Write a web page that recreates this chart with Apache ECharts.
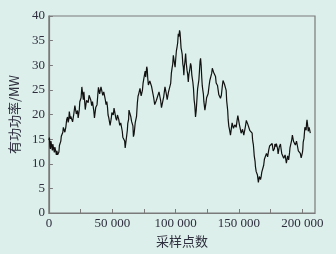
<!DOCTYPE html>
<html><head><meta charset="utf-8">
<script src="https://cdn.jsdelivr.net/npm/echarts@6/dist/echarts.min.js"></script>
<style>html,body{margin:0;padding:0;background:#dcefea;}#c{width:336px;height:254px;}</style>
</head><body><div id="c"></div>
<script>
const xName = '采样点数';
const yName = '有功功率/MW';
const sampleIdx = [0,800,1600,2400,3100,3900,4700,5500,6300,6900,7900,8700,9400,10200,11000,11800,13400,14700,15700,16500,17300,18700,19700,21300,22000,23100,24000,24800,26000,26800,27600,28300,29100,30300,31700,33100,34400,35400,36500,37400,38600,39600,40500,41700,43300,44500,45700,46200,47200,48300,49200,50200,51400,52800,54100,55100,56700,57900,58800,59800,60600,61400,61900,62600,63200,64600,65900,66700,67700,68500,69800,70900,71900,72800,73800,74800,75600,76400,77200,78000,79000,80300,81700,82700,84300,85400,86900,88200,89500,90600,91600,92800,93900,94900,96100,97200,98200,99200,100000,101200,102100,103100,103900,104700,105700,106500,107300,107900,109000,110000,111000,111800,112800,113600,114600,115700,116900,117800,118900,119700,120600,121500,122300,123100,124000,124900,126400,127600,128500,129400,130500,131500,132500,133600,134600,135400,136800,138000,139000,139900,140700,141500,142500,143300,144100,145100,146200,147200,148400,149800,150800,151700,152800,153800,155100,156500,157500,158500,159500,160400,161000,161700,162400,163000,164200,165000,165600,166500,167500,168500,169500,170600,171700,172600,173500,174800,176200,177000,178000,178700,179500,180500,181300,182300,183200,184300,185300,186400,187400,188400,189200,189900,190600,191600,192700,193500,194500,195400,196300,197400,198400,199800,200400,201000,201700,202300,203000,203700,204300,205000,205700,206300];
const powerMW = [14.8,13.5,14.6,13.2,14.0,12.8,13.4,12.4,12.6,11.8,12.4,13.8,14.6,15.4,16.4,17.0,17.5,19.5,19.0,20.3,19.6,18.5,20.2,21.6,20.4,19.3,21.0,22.8,25.6,23.8,24.6,22.4,21.3,22.8,23.9,22.9,22.6,20.8,19.5,21.6,24.0,25.6,24.4,25.2,24.6,23.0,22.6,21.6,19.4,17.8,19.2,20.3,21.3,19.3,19.9,19.0,18.3,16.6,15.2,14.6,13.4,15.0,16.8,18.5,20.9,19.6,18.9,15.5,17.2,18.5,22.3,24.2,25.3,23.8,24.9,26.6,28.3,27.6,29.7,27.4,25.6,26.8,26.0,23.4,21.6,23.2,24.6,22.8,21.2,23.6,25.6,24.0,23.3,24.8,26.3,29.4,32.0,30.2,31.0,33.8,36.4,37.1,35.1,33.0,30.2,28.0,30.6,32.4,29.0,26.6,28.8,30.4,28.0,26.6,23.0,19.5,23.4,26.0,29.2,31.4,27.6,24.9,22.6,20.9,22.4,23.6,25.8,27.3,28.4,29.7,28.4,27.7,26.0,24.9,24.0,23.3,25.6,27.3,26.0,24.9,21.8,18.9,17.0,15.8,17.4,18.2,17.0,17.5,18.6,19.8,17.4,16.2,17.0,15.8,17.6,18.9,17.6,16.8,17.0,16.2,14.4,12.8,11.0,9.4,8.0,6.8,6.3,7.2,7.4,8.2,9.7,11.2,12.1,11.4,12.8,13.6,14.1,12.6,13.1,14.2,14.1,13.0,12.1,13.8,13.1,12.2,11.1,11.8,10.1,11.6,10.8,12.2,13.4,14.8,15.5,14.2,13.8,14.6,13.4,12.6,12.1,11.1,13.0,14.8,16.4,17.8,16.8,18.9,17.6,16.5,17.2,16.2];
const midIdx = [400,1200,2000,2750,3500,4300,5100,5900,6600,7400,8300,9050,9800,10600,11400,12600,14050,15200,16100,16900,18000,19200,20500,21650,22550,23550,24400,25400,26400,27200,27950,28700,29700,31000,32400,33750,34900,35950,36950,38000,39100,40050,41100,42500,43900,45100,45950,46700,47750,48750,49700,50800,52100,53450,54600,55900,57300,58350,59300,60200,61000,61650,62250,62900,63900,65250,66300,67200,68100,69150,70350,71400,72350,73300,74300,75200,76000,76800,77600,78500,79650,81000,82200,83500,84850,86150,87550,88850,90050,91100,92200,93350,94400,95500,96650,97700,98700,99600,100600,101650,102600,103500,104300,105200,106100,106900,107600,108450,109500,110500,111400,112300,113200,114100,115150,116300,117350,118350,119300,120150,121050,121900,122700,123550,124450,125650,127000,128050,128950,129950,131000,132000,133050,134100,135000,136100,137400,138500,139450,140300,141100,142000,142900,143700,144600,145650,146700,147800,149100,150300,151250,152250,153300,154450,155800,157000,158000,159000,159950,160700,161350,162050,162700,163600,164600,165300,166050,167000,168000,169000,170050,171150,172150,173050,174150,175500,176600,177500,178350,179100,180000,180900,181800,182750,183750,184800,185850,186900,187900,188800,189550,190250,191100,192150,193100,194000,194950,195850,196850,197900,199100,200100,200700,201350,202000,202650,203350,204000,204650,205350,206000];
const midMW = [15.3,13.0,14.8,12.7,14.2,12.3,13.7,11.8,12.9,11.4,13.7,13.4,15.6,15.2,17.4,16.4,19.0,18.4,20.6,19.1,19.9,18.6,21.8,20.1,20.8,19.4,22.6,23.4,25.2,23.0,24.3,21.0,22.9,22.4,24.2,21.8,22.5,19.3,21.4,22.0,25.5,24.2,25.6,23.9,24.6,22.0,22.9,19.9,19.2,17.6,20.4,19.9,21.0,18.8,20.2,17.8,18.0,15.4,15.6,13.2,14.9,15.3,18.2,19.0,20.8,18.6,17.7,16.0,18.3,19.6,23.7,24.1,25.0,23.6,26.3,26.7,28.8,27.9,29.2,26.0,26.8,25.7,25.4,22.0,22.9,23.3,24.3,21.4,22.9,24.0,25.4,23.0,24.6,25.0,28.4,30.2,31.7,29.6,32.9,34.6,35.8,36.6,33.5,32.2,29.6,29.8,31.0,30.3,28.2,28.2,29.0,29.8,27.8,25.3,21.8,20.9,25.2,27.0,30.8,30.0,25.8,24.2,22.2,21.2,23.4,24.2,26.9,27.2,29.4,28.6,28.6,26.4,25.9,24.0,24.2,23.9,26.9,26.2,26.0,22.8,20.8,17.6,17.0,16.0,18.3,17.2,17.9,17.4,19.8,18.0,17.3,16.0,17.0,16.2,18.8,18.0,17.8,16.4,17.0,15.0,13.9,11.6,10.5,8.4,7.7,6.2,7.4,6.8,8.3,8.6,10.9,11.2,12.4,11.6,13.6,13.2,13.8,12.2,14.0,13.5,14.2,12.0,13.4,14.0,12.1,12.3,10.9,11.6,10.2,11.8,11.0,13.2,13.6,15.8,14.5,14.5,13.6,14.4,12.6,12.8,11.2,12.3,14.4,15.2,17.4,17.0,18.2,18.6,16.6,17.4,16.6];
const xTicks = [0,50000,100000,150000,200000];
const yTicks = [0,5,10,15,20,25,30,35,40];

const points = sampleIdx.map((x,i)=>[x,powerMW[i]]).concat(midIdx.map((x,i)=>[x,midMW[i]]));
points.sort((a,b)=>a[0]-b[0]);

const chart = echarts.init(document.getElementById('c'), null, {renderer:'canvas'});
const serif = '"Liberation Serif","DejaVu Serif",serif';
const txt = '#2e2e3e';
const axisCol = '#7a7a7a';
function fmt(v){ if (xTicks.indexOf(v) < 0) return ''; if (v===0) return '0'; const k=Math.floor(v/1000); return k+' 000'; }
chart.setOption({
  backgroundColor:'#dcefea',
  animation:false,
  grid:{left:48,right:21,top:16,bottom:41,show:true,borderColor:axisCol,borderWidth:1.2,backgroundColor:'transparent'},
  xAxis:{type:'value',min:0,max:210000,interval:25000,
    name:xName,nameLocation:'middle',nameGap:20,
    nameTextStyle:{fontFamily:'"Noto Sans CJK SC",sans-serif',fontSize:13,color:txt},
    axisLine:{show:true,lineStyle:{color:axisCol,width:1.2}},
    axisTick:{show:true,inside:true,length:4,lineStyle:{color:axisCol}},
    axisLabel:{formatter:fmt,fontFamily:serif,fontSize:13,color:txt,margin:4,showMaxLabel:false},
    splitLine:{show:false}},
  yAxis:{type:'value',min:0,max:40,interval:5,
    name:yName,nameLocation:'middle',nameGap:26,
    nameTextStyle:{fontFamily:'"Noto Sans CJK SC",sans-serif',fontSize:13,color:txt},
    axisLine:{show:true,lineStyle:{color:axisCol,width:1.2}},
    axisTick:{show:true,inside:true,length:4,lineStyle:{color:axisCol}},
    axisLabel:{fontFamily:serif,fontSize:13,color:txt,margin:4,formatter:function(v){return yTicks.indexOf(v)<0?'':String(v);}},
    splitLine:{show:false}},
  series:[{type:'line',data:points,showSymbol:false,
    lineStyle:{color:'#111',width:1.2},silent:true}]
});
</script></body></html>
